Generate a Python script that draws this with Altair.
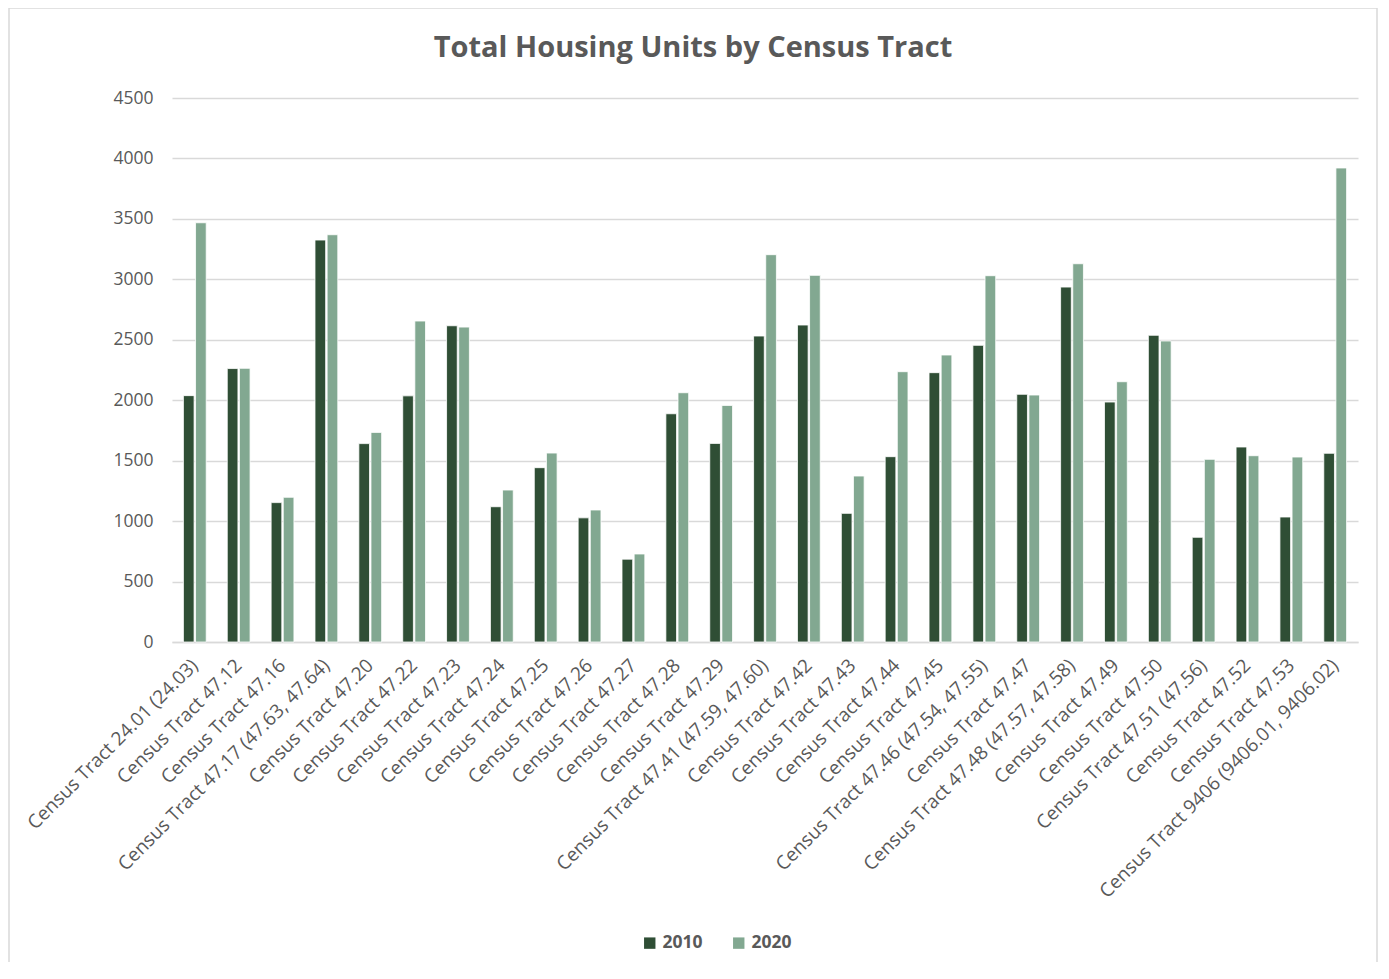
import altair as alt
import pandas as pd

tracts = [
    "Census Tract 24.01 (24.03)", "Census Tract 47.12", "Census Tract 47.16",
    "Census Tract 47.17 (47.63, 47.64)", "Census Tract 47.20", "Census Tract 47.22",
    "Census Tract 47.23", "Census Tract 47.24", "Census Tract 47.25",
    "Census Tract 47.26", "Census Tract 47.27", "Census Tract 47.28",
    "Census Tract 47.29", "Census Tract 47.41 (47.59, 47.60)", "Census Tract 47.42",
    "Census Tract 47.43", "Census Tract 47.44", "Census Tract 47.45",
    "Census Tract 47.46 (47.54, 47.55)", "Census Tract 47.47",
    "Census Tract 47.48 (47.57, 47.58)", "Census Tract 47.49", "Census Tract 47.50",
    "Census Tract 47.51 (47.56)", "Census Tract 47.52", "Census Tract 47.53",
    "Census Tract 9406 (9406.01, 9406.02)",
]
units_2010 = [2038, 2262, 1153, 3325, 1641, 2036, 2616, 1119, 1442, 1027, 685, 1888,
              1643, 2531, 2622, 1064, 1533, 2228, 2454, 2049, 2936, 1985, 2537, 866,
              1613, 1034, 1561]
units_2020 = [3468, 2264, 1197, 3369, 1734, 2655, 2605, 1257, 1563, 1092, 728, 2062,
              1957, 3204, 3033, 1373, 2236, 2374, 3030, 2043, 3129, 2153, 2490, 1511,
              1541, 1530, 3921]
years = ["2010", "2020"]
colors = ["#2F4E35", "#82A891"]

rows = []
for t, a, b in zip(tracts, units_2010, units_2020):
    rows.append({"tract": t, "year": years[0], "units": a})
    rows.append({"tract": t, "year": years[1], "units": b})
df = pd.DataFrame(rows)

FONT = "Open Sans"
GRAY = "#595959"

bars = alt.Chart(df).mark_bar(stroke="white", strokeWidth=0.8).encode(
    x=alt.X("tract:N", sort=tracts, title=None,
            scale=alt.Scale(paddingInner=0.48, paddingOuter=0.26),
            axis=alt.Axis(labelAngle=-45, labelAlign="right", labelBaseline="middle",
                          labelFontSize=19, labelColor=GRAY, labelFont=FONT,
                          ticks=False, domainColor="#d9d9d9", domainWidth=1.5,
                          labelPadding=20, labelOverlap=False, labelLimit=500)),
    xOffset=alt.XOffset("year:N", scale=alt.Scale(paddingInner=0.12)),
    y=alt.Y("units:Q", title=None,
            scale=alt.Scale(domain=[0, 4500]),
            axis=alt.Axis(values=list(range(0, 4501, 500)), format="d",
                          labelFontSize=17.5, labelColor=GRAY, labelFont=FONT,
                          domain=False, ticks=False,
                          gridColor="#d9d9d9", gridWidth=1.5, labelPadding=19)),
    color=alt.Color("year:N", scale=alt.Scale(domain=years, range=colors),
                    legend=alt.Legend(title=None, orient="none", direction="horizontal",
                                      legendX=469, legendY=836, symbolType="square",
                                      symbolSize=130, symbolStrokeWidth=0,
                                      labelFontSize=17.5, labelFontWeight="bold",
                                      labelColor=GRAY, labelFont=FONT, columnPadding=27)),
)

border = alt.Chart(alt.Data(values=[{}])).mark_rect(
    fillOpacity=0, stroke="#d9d9d9", strokeWidth=1.5, clip=False
).encode(
    x=alt.value(-163), x2=alt.value(1205), y=alt.value(-90), y2=alt.value(890)
)

chart = alt.layer(bars, border).properties(
    width=1186, height=544,
    autosize=alt.AutoSizeParams(type="none"),
    padding={"left": 164, "top": 90, "right": 20, "bottom": 320},
    title=alt.TitleParams("Total Housing Units by Census Tract", anchor="middle",
                          frame="bounds", offset=-56, fontSize=29, fontWeight="bold",
                          color=GRAY, font=FONT),
).configure_view(strokeWidth=0)

chart.save("out.html", embed_options={"renderer": "svg", "actions": False})
